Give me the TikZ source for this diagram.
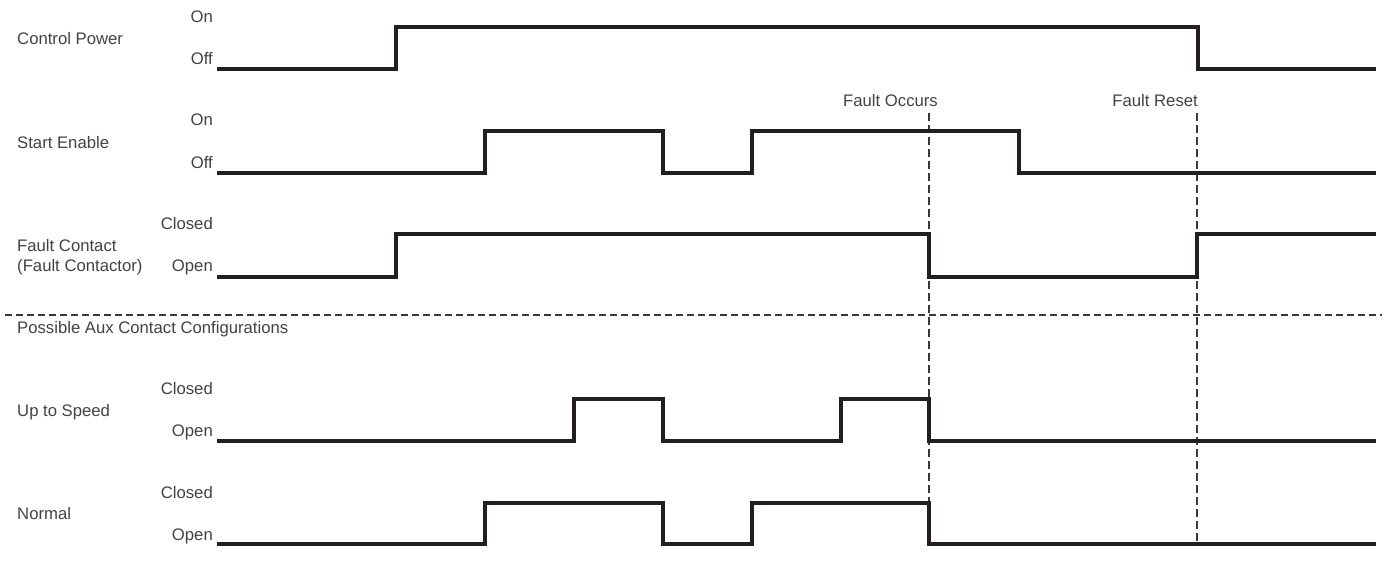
\documentclass[tikz,border=0pt]{standalone}
\usepackage{fontspec}
\setmainfont{Liberation Sans}
\definecolor{wave}{HTML}{231F20}
\definecolor{dash}{HTML}{3A3A3A}
\begin{document}
\begin{tikzpicture}[x=1pt,y=-1pt,
  txt/.style={font=\fontsize{16.7}{19}\selectfont, text=wave!85, inner sep=0pt},
  lvl/.style={txt, anchor=base east},
  sig/.style={txt, anchor=base west},
  wavepath/.style={draw=wave, line width=3.4pt, line join=miter},
  guide/.style={draw=dash, line width=1.3pt, dash pattern=on 8pt off 4pt},
  divider/.style={draw=dash, line width=1.3pt, dash pattern=on 7pt off 4pt}]
\useasboundingbox (0,0) rectangle (1388,581);

% time grid
\def\xa{217}\def\xe{1376}

% ---- labels ----
\node[sig] (cp)  at (17,44)  {Control Power};
\node[lvl] (cpOn)  at (213,22)  {On};
\node[lvl] (cpOff) at (213,64)  {Off};

\node[sig] (se)  at (17,148) {Start Enable};
\node[lvl] (seOn)  at (213,125) {On};
\node[lvl] (seOff) at (213,168) {Off};

\node[sig] (fc)  at (17,251) {Fault Contact};
\node[sig] (fc2) at (17,271) {(Fault Contactor)};
\node[lvl] (fcC) at (213,229) {Closed};
\node[lvl] (fcO) at (213,271) {Open};

\node[sig] (aux) at (17,333) {Possible Aux Contact Configurations};

\node[sig] (us)  at (17,416) {Up to Speed};
\node[lvl] (usC) at (213,394) {Closed};
\node[lvl] (usO) at (213,436) {Open};

\node[sig] (nm)  at (17,519) {Normal};
\node[lvl] (nmC) at (213,498) {Closed};
\node[lvl] (nmO) at (213,540) {Open};

\node[txt, anchor=base east] (fo) at (938,106) {Fault Occurs};
\node[txt, anchor=base east] (fr) at (1198,106) {Fault Reset};

% ---- guides ----
\coordinate (foTop) at (929,113);
\coordinate (foBot) at (929,544);
\coordinate (frTop) at (1197,113);
\coordinate (frBot) at (1197,544);
\coordinate (dvL) at (5,315);
\coordinate (dvR) at (1382,315);
\draw[guide] (foTop) -- (foBot);
\draw[guide] (frTop) -- (frBot);
\draw[divider] (dvL) -- (dvR);

% ---- waveforms ----
% Control Power: low 69, high 27
\draw[wavepath] (\xa,69) -- (396,69) -- (396,27) -- (1198,27) -- (1198,69) -- (\xe,69);
% Start Enable: low 173, high 131
\draw[wavepath] (\xa,173) -- (485,173) -- (485,131) -- (663,131) -- (663,173)
  -- (752,173) -- (752,131) -- (1019,131) -- (1019,173) -- (\xe,173);
% Fault Contact: high 234, low 277
\draw[wavepath] (\xa,277) -- (396,277) -- (396,234) -- (929,234) -- (929,277)
  -- (1197,277) -- (1197,234) -- (\xe,234);
% Up to Speed: high 399, low 441
\draw[wavepath] (\xa,441) -- (574,441) -- (574,399) -- (663,399) -- (663,441)
  -- (841,441) -- (841,399) -- (929,399) -- (929,441) -- (\xe,441);
% Normal: high 503, low 544
\draw[wavepath] (\xa,544) -- (485,544) -- (485,503) -- (663,503) -- (663,544)
  -- (752,544) -- (752,503) -- (929,503) -- (929,544) -- (\xe,544);
\end{tikzpicture}
\end{document}
